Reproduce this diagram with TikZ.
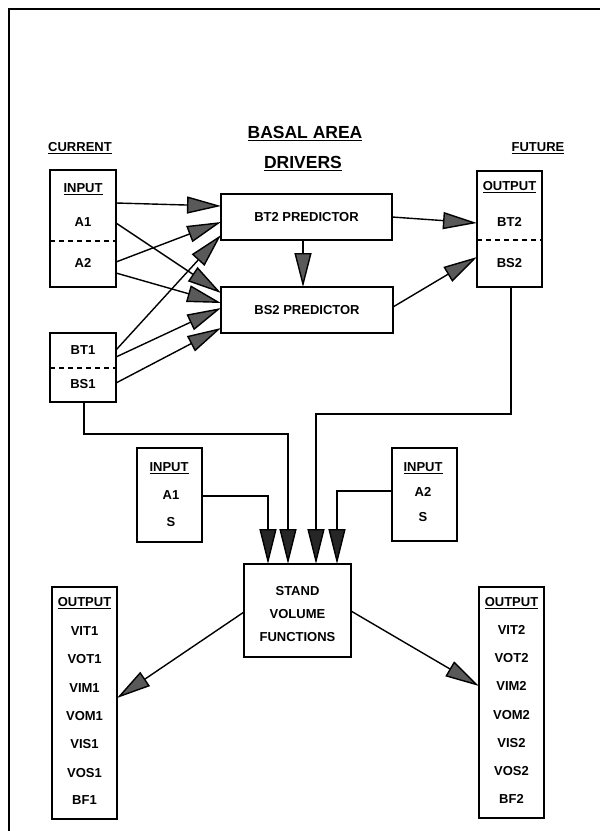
\documentclass[tikz,border=0pt]{standalone}
\usepackage{fontspec}
\setmainfont{Liberation Sans}
\usetikzlibrary{arrows.meta,calc}
\newcommand\uln[1]{\setbox0\hbox{#1}\rlap{\rule[-2.6pt]{\wd0}{1.2pt}}\box0}
\begin{document}
\begin{tikzpicture}[x=1pt,y=-1pt, line width=1.4pt,
  box/.style={draw, rectangle, inner sep=0pt, outer sep=0pt},
  lbl/.style={inner sep=0pt, font=\fontsize{13}{15}\selectfont\bfseries},
  big/.style={inner sep=0pt, font=\fontsize{17.5}{20}\selectfont\bfseries},
  arr/.style={-{Triangle[length=34pt,width=17pt,fill=black!65]}},
  arrd/.style={-{Triangle[length=35pt,width=17pt,fill=black!85]}},
  dsh/.style={dash pattern=on 5pt off 4pt, line width=1.3pt}
]
\useasboundingbox (0,0) rectangle (600,831);
\fill[white] (0,0) rectangle (600,831);
% frame
\draw[line width=1.2pt] (600,9) -- (9,9) -- (9,831);

% headings
\node[lbl] (hcur) at (80,148) {\uln{CURRENT}};
\node[big] (hbas) at (305,134) {\uln{BASAL AREA}};
\node[big] (hdrv) at (303,164) {\uln{DRIVERS}};
\node[lbl] (hfut) at (538,148) {\uln{FUTURE}};

% current input box
\node[box, minimum width=66pt, minimum height=117pt] (in1) at (83,228.5) {};
\node[lbl] (in1a) at (83,189) {\uln{INPUT}};
\node[lbl] (in1b) at (83,222) {A1};
\node[lbl] (in1c) at (83,263) {A2};
\draw[dsh] ([yshift=-71pt]in1.north west) -- ([yshift=-71pt]in1.north east);

% BT1 / BS1 box
\node[box, minimum width=66pt, minimum height=69pt] (bt) at (83,367.5) {};
\node[lbl] (bta) at (83,350) {BT1};
\node[lbl] (btb) at (83,384) {BS1};
\draw[dsh] ([yshift=-35pt]bt.north west) -- ([yshift=-35pt]bt.north east);

% predictors
\node[box, minimum width=171pt, minimum height=46pt] (bt2p) at (306.5,217) {};
\node[lbl] (bt2pt) at (306.5,217) {BT2 PREDICTOR};
\node[box, minimum width=172pt, minimum height=46pt] (bs2p) at (307,310) {};
\node[lbl] (bs2pt) at (307,310) {BS2 PREDICTOR};

% future output box
\node[box, minimum width=65pt, minimum height=116pt] (out2) at (509.5,229) {};
\node[lbl] (out2a) at (509.5,187) {\uln{OUTPUT}};
\node[lbl] (out2b) at (509.5,222) {BT2};
\node[lbl] (out2c) at (509.5,263) {BS2};
\draw[dsh] ([yshift=-69pt]out2.north west) -- ([yshift=-69pt]out2.north east);

% lower input boxes
\node[box, minimum width=65pt, minimum height=94pt] (inL) at (169.5,495) {};
\node[lbl] (inLa) at (169,468) {\uln{INPUT}};
\node[lbl] (inLb) at (171,495) {A1};
\node[lbl] (inLc) at (171,522) {S};
\node[box, minimum width=65pt, minimum height=93pt] (inR) at (424.5,494.5) {};
\node[lbl] (inRa) at (423,468) {\uln{INPUT}};
\node[lbl] (inRb) at (423,492) {A2};
\node[lbl] (inRc) at (423,517) {S};

% stand volume
\node[box, minimum width=107pt, minimum height=93pt] (sv) at (297.5,610.5) {};
\node[lbl] (sva) at (297.5,591) {STAND};
\node[lbl] (svb) at (297.5,614) {VOLUME};
\node[lbl] (svc) at (297.5,637) {FUNCTIONS};

% output boxes
\node[box, minimum width=65pt, minimum height=232pt] (oL) at (84.5,703) {};
\node[lbl] (oL0) at (84.5,603) {\uln{OUTPUT}};
\node[lbl] (oL1) at (84.5,631) {VIT1};
\node[lbl] (oL2) at (84.5,659) {VOT1};
\node[lbl] (oL3) at (84.5,688) {VIM1};
\node[lbl] (oL4) at (84.5,716) {VOM1};
\node[lbl] (oL5) at (84.5,744) {VIS1};
\node[lbl] (oL6) at (84.5,773) {VOS1};
\node[lbl] (oL7) at (84.5,800) {BF1};
\node[box, minimum width=65pt, minimum height=231pt] (oR) at (511.5,702.5) {};
\node[lbl] (oR0) at (511.5,603) {\uln{OUTPUT}};
\node[lbl] (oR1) at (511.5,630) {VIT2};
\node[lbl] (oR2) at (511.5,658) {VOT2};
\node[lbl] (oR3) at (511.5,686) {VIM2};
\node[lbl] (oR4) at (511.5,715) {VOM2};
\node[lbl] (oR5) at (511.5,743) {VIS2};
\node[lbl] (oR6) at (511.5,771) {VOS2};
\node[lbl] (oR7) at (511.5,799) {BF2};

% upper arrows
\draw[arr] ([yshift=-33pt]in1.north east) -- ([yshift=-12pt]bt2p.north west);
\draw[arr] ([yshift=-53pt]in1.north east) -- ([yshift=-6pt]bs2p.north west);
\draw[arr] ([yshift=-92pt]in1.north east) -- ([yshift=-28pt]bt2p.north west);
\draw[arr] ([yshift=-103pt]in1.north east) -- ([yshift=-16pt]bs2p.north west);
\draw[arr] ([yshift=-17pt]bt.north east) -- ([yshift=-41pt]bt2p.north west);
\draw[arr] ([yshift=-24pt]bt.north east) -- ([yshift=-21pt]bs2p.north west);
\draw[arr] ([yshift=-50pt]bt.north east) -- ([yshift=-41pt]bs2p.north west);
\draw[arr] ([xshift=-3.5pt]bt2p.south) -- ([xshift=-3.5pt]bt2p.south |- bs2p.north);
\draw[arr] ([yshift=-23pt]bt2p.north east) -- ([yshift=-52pt]out2.north west);
\draw[arr] ([yshift=-20pt]bs2p.north east) -- ([yshift=-86pt]out2.north west);

% lower connectors
\draw[arrd] ([xshift=1pt]bt.south) -- ++(0,32) -| ([xshift=44pt]sv.north west);
\draw[arrd] ([xshift=1.5pt]out2.south) -- ++(0,127) -| ([xshift=72pt]sv.north west);
\draw[arrd] ([yshift=-48pt]inL.north east) -| ([xshift=24pt]sv.north west);
\draw[arrd] ([yshift=-43pt]inR.north west) -| ([xshift=93pt]sv.north west);
\draw[arr] ([yshift=-48pt]sv.north west) -- ([yshift=-111pt]oL.north east);
\draw[arr] ([yshift=-47pt]sv.north east) -- ([yshift=-99pt]oR.north west);
\end{tikzpicture}
\end{document}
